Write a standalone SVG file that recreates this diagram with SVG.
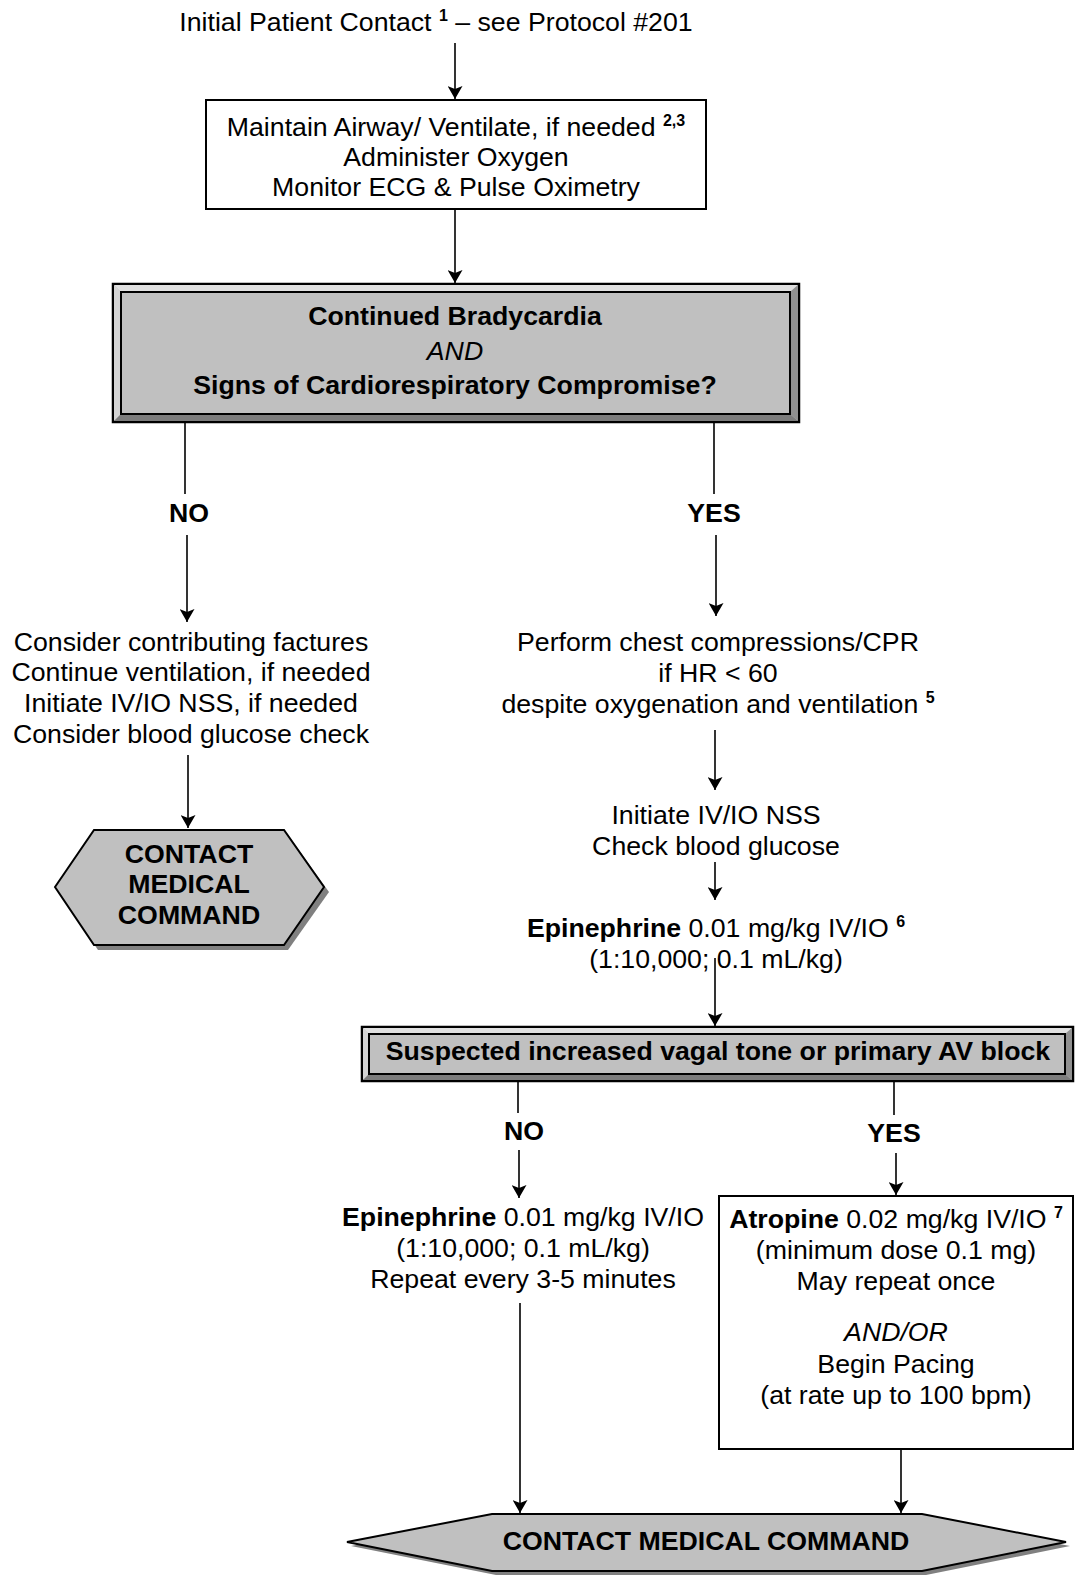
<svg xmlns="http://www.w3.org/2000/svg" width="1076" height="1575" viewBox="0 0 1076 1575">
<defs>
<style>
text{font-family:"Liberation Sans",Arial,sans-serif;font-size:26.7px;fill:#000;text-anchor:middle}
.b{font-weight:bold}
.i{font-style:italic}
.sup{font-size:16px;font-weight:bold}
.ln{stroke:#000;stroke-width:1.6;fill:none}
.arr{stroke:#000;stroke-width:1.6;fill:none;marker-end:url(#ah)}
.box{fill:#fff;stroke:#000;stroke-width:2}
.hex{fill:#c0c0c0;stroke:#000;stroke-width:2}
.shadow{fill:#808080}
.outer{fill:#c0c0c0;stroke:#000;stroke-width:2.5}
.inner{fill:#c0c0c0;stroke:#000;stroke-width:2}
.lt{fill:#e0e0e0}
.lt2{fill:#d4d4d4}
.dk{fill:#7c7c7c}
.dk2{fill:#909090}
</style>
<marker id="ah" markerWidth="13" markerHeight="15" refX="13" refY="7.5" orient="auto" markerUnits="userSpaceOnUse">
<path d="M0,0 L13,7.5 L0,15 L3,7.5 z" fill="#000"/>
</marker>
</defs>

<g id="connectors">
<line class="arr" x1="455" y1="43" x2="455" y2="99"/>
<line class="arr" x1="455" y1="209" x2="455" y2="283"/>
<line class="ln" x1="185" y1="422" x2="185" y2="494"/>
<line class="arr" x1="187" y1="535" x2="187" y2="622"/>
<line class="ln" x1="714" y1="422" x2="714" y2="494"/>
<line class="arr" x1="716" y1="535" x2="716" y2="616"/>
<line class="arr" x1="188" y1="755" x2="188" y2="828"/>
<line class="arr" x1="715" y1="730" x2="715" y2="790"/>
<line class="arr" x1="715" y1="862" x2="715" y2="900"/>
<line class="arr" x1="715" y1="958" x2="715" y2="1026"/>
<line class="ln" x1="518" y1="1081" x2="518" y2="1113"/>
<line class="arr" x1="519" y1="1150" x2="519" y2="1198"/>
<line class="ln" x1="894" y1="1081" x2="894" y2="1115"/>
<line class="arr" x1="896" y1="1153" x2="896" y2="1195"/>
<line class="arr" x1="520" y1="1303" x2="520" y2="1513"/>
<line class="arr" x1="901" y1="1449" x2="901" y2="1513"/>
<text class="b" x="189" y="522">NO</text>
<text class="b" x="714" y="522">YES</text>
<text class="b" x="524" y="1140">NO</text>
<text class="b" x="894" y="1142">YES</text>
</g>

<g id="start">
<text x="436" y="31">Initial Patient Contact <tspan class="sup" dy="-10">1</tspan><tspan dy="10"> – see Protocol #201</tspan></text>
</g>

<g id="airway">
<rect class="box" x="206" y="100" width="500" height="109"/>
<text x="456" y="136">Maintain Airway/ Ventilate, if needed <tspan class="sup" dy="-10">2,3</tspan></text>
<text x="456" y="166">Administer Oxygen</text>
<text x="456" y="196">Monitor ECG &amp; Pulse Oximetry</text>
</g>

<g id="decision1">
<rect class="outer" x="113" y="284" width="686" height="138"/>
<polygon class="lt" points="114,285 798,285 790,292 121,292"/>
<polygon class="lt2" points="114,285 121,292 121,414 114,421"/>
<polygon class="dk" points="114,421 121,414 790,414 798,421"/>
<polygon class="dk2" points="798,285 798,421 790,414 790,292"/>
<rect class="inner" x="121" y="292" width="669" height="122"/>
<text class="b" x="455" y="325">Continued Bradycardia</text>
<text class="i" x="455" y="360">AND</text>
<text class="b" x="455" y="394">Signs of Cardiorespiratory Compromise?</text>
</g>

<g id="no-care">
<text x="191" y="651">Consider contributing factures</text>
<text x="191" y="681">Continue ventilation, if needed</text>
<text x="191" y="712">Initiate IV/IO NSS, if needed</text>
<text x="191" y="743">Consider blood glucose check</text>
</g>

<g id="contact1">
<polygon class="shadow" points="59,892 98,835 288,835 329,892 288,950 98,950"/>
<polygon class="hex" points="55,887 94,830 284,830 324,887 284,945 94,945"/>
<text class="b" x="189" y="863">CONTACT</text>
<text class="b" x="189" y="893">MEDICAL</text>
<text class="b" x="189" y="924">COMMAND</text>
</g>

<g id="cpr">
<text x="718" y="651">Perform chest compressions/CPR</text>
<text x="718" y="682">if HR &lt; 60</text>
<text x="718" y="713">despite oxygenation and ventilation <tspan class="sup" dy="-10">5</tspan></text>
</g>

<g id="ivio">
<text x="716" y="824">Initiate IV/IO NSS</text>
<text x="716" y="855">Check blood glucose</text>
</g>

<g id="epi1">
<text x="716" y="937"><tspan class="b">Epinephrine</tspan> 0.01 mg/kg IV/IO <tspan class="sup" dy="-10">6</tspan></text>
<text x="716" y="968">(1:10,000; 0.1 mL/kg)</text>
</g>

<g id="decision2">
<rect class="outer" x="362" y="1027" width="711" height="54"/>
<polygon class="lt" points="363,1028 1072,1028 1065,1034 369,1034"/>
<polygon class="lt2" points="363,1028 369,1034 369,1074 363,1080"/>
<polygon class="dk" points="363,1080 369,1074 1065,1074 1072,1080"/>
<polygon class="dk2" points="1072,1028 1072,1080 1065,1074 1065,1034"/>
<rect class="inner" x="369" y="1034" width="696" height="40"/>
<text class="b" x="718" y="1060">Suspected increased vagal tone or primary AV block</text>
</g>

<g id="epi2">
<text x="523" y="1226"><tspan class="b">Epinephrine</tspan> 0.01 mg/kg IV/IO</text>
<text x="523" y="1257">(1:10,000; 0.1 mL/kg)</text>
<text x="523" y="1288">Repeat every 3-5 minutes</text>
</g>

<g id="atropine">
<rect class="box" x="719" y="1196" width="354" height="253"/>
<text x="896" y="1228"><tspan class="b">Atropine</tspan> 0.02 mg/kg IV/IO <tspan class="sup" dy="-10">7</tspan></text>
<text x="896" y="1259">(minimum dose 0.1 mg)</text>
<text x="896" y="1290">May repeat once</text>
<text class="i" x="896" y="1341">AND/OR</text>
<text x="896" y="1373">Begin Pacing</text>
<text x="896" y="1404">(at rate up to 100 bpm)</text>
</g>

<g id="contact2">
<polygon class="shadow" points="351,1546 496,1518 926,1518 1070,1546 926,1575 496,1575"/>
<polygon class="hex" points="347,1542 492,1514 922,1514 1066,1542 922,1571 492,1571"/>
<text class="b" x="706" y="1550">CONTACT MEDICAL COMMAND</text>
</g>
</svg>
